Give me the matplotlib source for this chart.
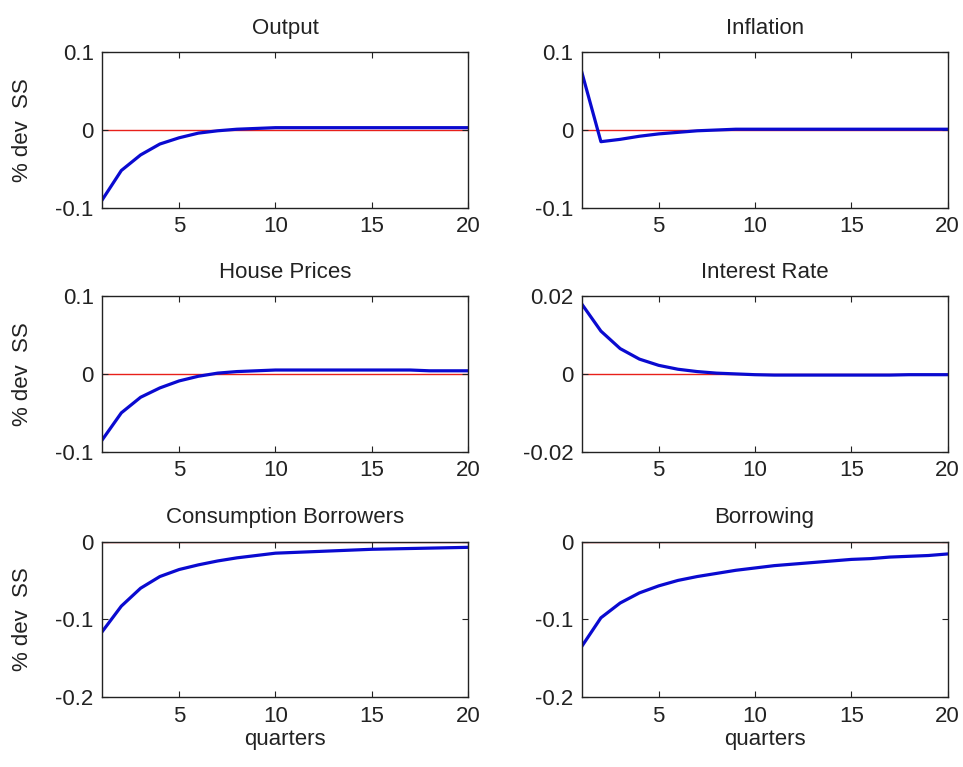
import numpy as np
import matplotlib
matplotlib.use("Agg")
import matplotlib.pyplot as plt

plt.rcParams['font.family'] = ['Liberation Sans', 'DejaVu Sans']

quarters = np.arange(1, 21)

# impulse responses, % deviation from steady state
output = [-0.090, -0.052, -0.032, -0.018, -0.010, -0.004, -0.001, 0.001, 0.002, 0.003,
          0.003, 0.003, 0.003, 0.003, 0.003, 0.003, 0.003, 0.003, 0.003, 0.003]
inflation = [0.075, -0.015, -0.012, -0.008, -0.005, -0.003, -0.001, 0.000, 0.001, 0.001,
             0.001, 0.001, 0.001, 0.001, 0.001, 0.001, 0.001, 0.001, 0.001, 0.001]
house_prices = [-0.085, -0.050, -0.030, -0.018, -0.009, -0.003, 0.001, 0.003, 0.004, 0.005,
                0.005, 0.005, 0.005, 0.005, 0.005, 0.005, 0.005, 0.004, 0.004, 0.004]
interest_rate = [0.0180, 0.0110, 0.0065, 0.0038, 0.0022, 0.0012, 0.0006, 0.0002, 0.0000, -0.0002,
                 -0.0003, -0.0003, -0.0003, -0.0003, -0.0003, -0.0003, -0.0003, -0.0002, -0.0002, -0.0002]
cons_borrowers = [-0.116, -0.083, -0.060, -0.045, -0.036, -0.030, -0.025, -0.021, -0.018, -0.015,
                  -0.014, -0.013, -0.012, -0.011, -0.010, -0.0095, -0.009, -0.0085, -0.008, -0.0075]
borrowing = [-0.135, -0.098, -0.079, -0.066, -0.057, -0.050, -0.045, -0.041, -0.037, -0.034,
             -0.031, -0.029, -0.027, -0.025, -0.023, -0.022, -0.020, -0.019, -0.018, -0.016]

titles = ['Output', 'Inflation', 'House Prices', 'Interest Rate',
          'Consumption Borrowers', 'Borrowing']
series = [output, inflation, house_prices, interest_rate, cons_borrowers, borrowing]
ylims = [(-0.1, 0.1), (-0.1, 0.1), (-0.1, 0.1), (-0.02, 0.02), (-0.2, 0), (-0.2, 0)]
yticks = [[-0.1, 0, 0.1], [-0.1, 0, 0.1], [-0.1, 0, 0.1], [-0.02, 0, 0.02],
          [-0.2, -0.1, 0], [-0.2, -0.1, 0]]
yticklabels = [['-0.1', '0', '0.1'], ['-0.1', '0', '0.1'], ['-0.1', '0', '0.1'],
               ['-0.02', '0', '0.02'], ['-0.2', '-0.1', '0'], ['-0.2', '-0.1', '0']]

fig = plt.figure(figsize=(9.63, 7.67), dpi=100)
fig.patch.set_facecolor('white')

lefts = [0.106, 0.604]
bottoms = [0.729, 0.411, 0.091]
w, h = 0.380, 0.203
fs = 16

for i in range(6):
    row, col = divmod(i, 2)
    ax = fig.add_axes([lefts[col], bottoms[row], w, h])
    ax.plot(quarters, np.zeros(len(quarters)), color='#e8201a', linewidth=1.0, zorder=1)
    ax.plot(quarters, series[i], color='#0a0ad0', linewidth=2.3, zorder=3)
    ax.set_xlim(1, 20)
    ax.set_ylim(*ylims[i])
    ax.set_xticks([5, 10, 15, 20])
    ax.set_yticks(yticks[i])
    ax.set_yticklabels(yticklabels[i])
    ax.tick_params(direction='in', top=True, right=True, labelsize=fs,
                   length=4, width=0.8, colors='#222222', pad=6)
    for s in ax.spines.values():
        s.set_color('#222222')
        s.set_linewidth(1.0)
        s.set_zorder(4)
    ax.set_title(titles[i], fontsize=fs, pad=13, color='#222222')
    if col == 0:
        ax.set_ylabel('% dev  SS', fontsize=fs, color='#222222', labelpad=16)
    if row == 2:
        ax.set_xlabel('quarters', fontsize=fs, color='#222222', labelpad=2)

fig.savefig('out.png', dpi=100)
